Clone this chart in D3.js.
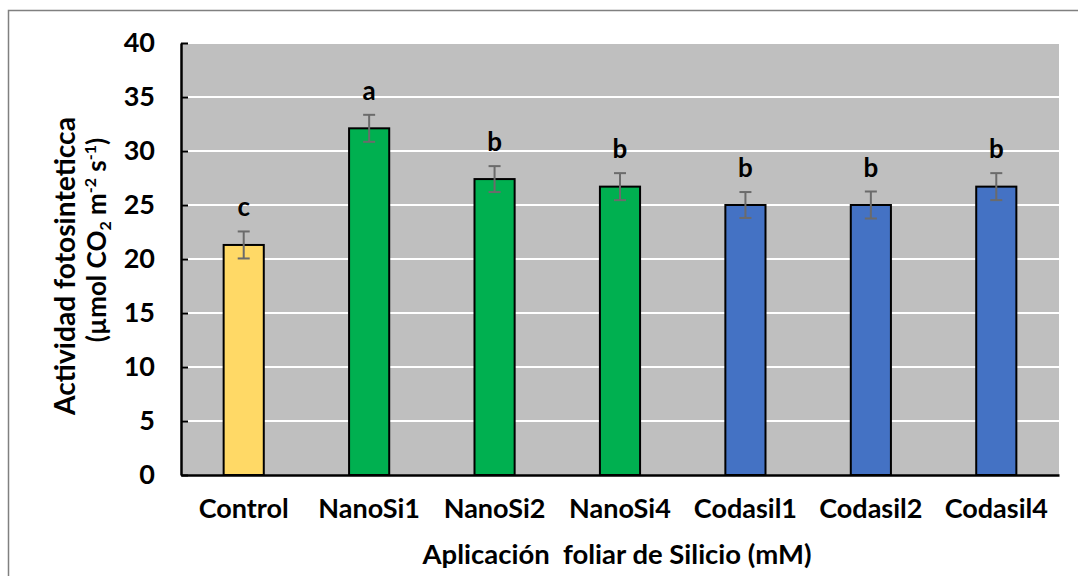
<!DOCTYPE html>
<html>
<head>
<meta charset="utf-8">
<script src="https://cdn.jsdelivr.net/npm/d3@7"></script>
<style>
  html, body { margin: 0; padding: 0; background: #fff; }
  svg { display: block; }
  text { font-family: Lato, "Open Sans", sans-serif; font-weight: bold; fill: #000; }
</style>
</head>
<body>
<svg id="chart" width="1078" height="576"></svg>
<script>
// Photosynthetic activity by foliar silicon treatment
const categories = ["Control", "NanoSi1", "NanoSi2", "NanoSi4", "Codasil1", "Codasil2", "Codasil4"];
const values = [21.3, 32.1, 27.4, 26.7, 25.0, 25.0, 26.7];
const errors = [1.25, 1.25, 1.2, 1.25, 1.2, 1.25, 1.25];
const letters = ["c", "a", "b", "b", "b", "b", "b"];
const barColors = ["#FFD966", "#00B050", "#00B050", "#00B050", "#4472C4", "#4472C4", "#4472C4"];
const yTicks = [0, 5, 10, 15, 20, 25, 30, 35, 40];

const svg = d3.select("#chart");
const plot = { left: 181, right: 1059, top: 43, bottom: 475 };
const labelFont = 27;

// scale a text element's font so that it spans the given width
function fitText(sel, width, base) {
  sel.attr("font-size", base);
  const w = sel.node().getComputedTextLength();
  sel.attr("font-size", base * width / w);
}

// outer chart frame
svg.append("rect")
  .attr("x", 8.5).attr("y", 10.5)
  .attr("width", 1200).attr("height", 700)
  .attr("fill", "none").attr("stroke", "#808080").attr("stroke-width", 1.5);

const x = d3.scaleBand().domain(categories).range([plot.left, plot.right]).paddingInner(0.68).paddingOuter(0.34);
const y = d3.scaleLinear().domain([0, 40]).range([plot.bottom, plot.top]);

// plot background
svg.append("rect")
  .attr("x", plot.left).attr("y", plot.top)
  .attr("width", plot.right - plot.left).attr("height", plot.bottom - plot.top)
  .attr("fill", "#BFBFBF");

// horizontal gridlines
svg.append("g").selectAll("line").data(yTicks.filter(d => d > 0)).join("line")
  .attr("x1", plot.left).attr("x2", plot.right)
  .attr("y1", d => y(d)).attr("y2", d => y(d))
  .attr("stroke", "#fff").attr("stroke-width", 2);

// bars
svg.append("g").selectAll("rect").data(categories).join("rect")
  .attr("x", d => x(d))
  .attr("y", (d, i) => y(values[i]))
  .attr("width", x.bandwidth())
  .attr("height", (d, i) => y(0) - y(values[i]))
  .attr("fill", (d, i) => barColors[i])
  .attr("stroke", "#000").attr("stroke-width", 2);

// error bars
const eb = svg.append("g").attr("stroke", "#6b6b6b").attr("stroke-width", 2);
categories.forEach((c, i) => {
  const cx = x(c) + x.bandwidth() / 2;
  const hi = y(values[i] + errors[i]), lo = y(values[i] - errors[i]);
  eb.append("line").attr("x1", cx).attr("x2", cx).attr("y1", hi).attr("y2", lo);
  eb.append("line").attr("x1", cx - 6).attr("x2", cx + 6).attr("y1", hi).attr("y2", hi);
  eb.append("line").attr("x1", cx - 6).attr("x2", cx + 6).attr("y1", lo).attr("y2", lo);
});

// significance letters
svg.append("g").selectAll("text").data(categories).join("text")
  .attr("x", d => x(d) + x.bandwidth() / 2)
  .attr("y", (d, i) => y(values[i] + errors[i]) - 15)
  .attr("text-anchor", "middle")
  .attr("font-size", 26)
  .text((d, i) => letters[i]);

// y axis
const yAxis = d3.axisLeft(y).tickValues(yTicks).tickSizeInner(-7).tickSizeOuter(0).tickPadding(26);
const gy = svg.append("g").attr("transform", `translate(${plot.left},0)`).call(yAxis);
gy.select(".domain").attr("stroke", "#000").attr("stroke-width", 2.5);
gy.selectAll(".tick line").attr("stroke", "#000").attr("stroke-width", 2);
gy.selectAll(".tick text").attr("font-size", labelFont).attr("font-family", "Lato, sans-serif").attr("font-weight", "bold").attr("fill", "#000");

// x axis
const xAxis = d3.axisBottom(x).tickSize(0).tickPadding(24);
const gx = svg.append("g").attr("transform", `translate(0,${plot.bottom})`).call(xAxis);
gx.select(".domain").attr("stroke", "#000").attr("stroke-width", 2.5);
gx.selectAll(".tick text").attr("font-size", labelFont).attr("font-family", "Lato, sans-serif").attr("font-weight", "bold").attr("fill", "#000");

// axis titles
const xt = svg.append("text")
  .attr("x", 617).attr("y", 564)
  .attr("text-anchor", "middle")
  .style("white-space", "pre")
  .text("Aplicación  foliar de Silicio (mM)");
fitText(xt, 389, 26);

const yt = svg.append("text")
  .attr("transform", "translate(75,266) rotate(-90)")
  .attr("text-anchor", "middle")
  .text("Actividad fotosinteticca");
fitText(yt, 298, 26);

const yt2 = svg.append("text")
  .attr("transform", "translate(106,240) rotate(-90)")
  .attr("text-anchor", "middle").attr("font-size", 26);
yt2.append("tspan").text("(µmol CO");
yt2.append("tspan").attr("font-size", 16).attr("dy", 5).text("2");
yt2.append("tspan").attr("dy", -5).text(" m");
yt2.append("tspan").attr("font-size", 16).attr("dy", -10).text("-2");
yt2.append("tspan").attr("dy", 10).text(" s");
yt2.append("tspan").attr("font-size", 16).attr("dy", -10).text("-1");
yt2.append("tspan").attr("dy", 10).text(")");
</script>
</body>
</html>
